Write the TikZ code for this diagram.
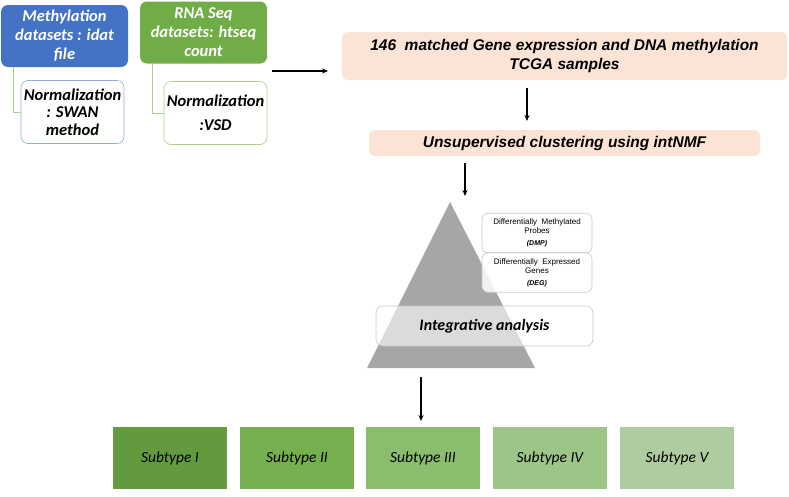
\documentclass[tikz,border=0pt]{standalone}
\usepackage{fontspec}
\usetikzlibrary{arrows.meta}
\newfontfamily\calfont{Carlito}
\newfontfamily\arifont{Liberation Sans}
\definecolor{mblue}{HTML}{4472C4}
\definecolor{mgreen}{HTML}{70AD47}
\definecolor{lblue}{HTML}{8FAADC}
\definecolor{lgreen}{HTML}{A9D18E}
\definecolor{peach}{HTML}{FBE4D5}
\definecolor{tgray}{HTML}{A6A6A6}
\definecolor{bgray}{HTML}{C8C8C8}
\definecolor{sa}{HTML}{639A3D}
\definecolor{sb}{HTML}{74B04E}
\definecolor{sc}{HTML}{8ABD6E}
\definecolor{sd}{HTML}{9CC587}
\definecolor{se}{HTML}{AECCA0}
\begin{document}
\begin{tikzpicture}[x=1pt,y=-1pt,
  topbox/.style={rounded corners=7pt, minimum width=127pt, minimum height=62pt, inner sep=1pt,
     align=center, text=white, font=\calfont\bfseries\itshape\fontsize{16.5}{19}\selectfont},
  normbox/.style={draw, line width=0.6pt, rounded corners=7pt, fill=white, minimum width=103pt, minimum height=63pt,
     inner sep=1pt, align=center, font=\calfont\bfseries\itshape\fontsize{16.5}{17.5}\selectfont},
  peachbox/.style={fill=peach, rounded corners=6pt, align=center, inner sep=2pt,
     font=\arifont\bfseries\itshape\fontsize{15.5}{19}\selectfont},
  smallbox/.style={draw=bgray, line width=0.6pt, fill=white, fill opacity=0.85, text opacity=1, rounded corners=6pt,
     minimum width=110pt, minimum height=39.5pt, inner sep=1pt, align=center,
     font=\arifont\fontsize{8}{9}\selectfont},
  subbox/.style={minimum width=114pt, minimum height=62pt, inner sep=0pt,
     font=\calfont\itshape\fontsize{15.5}{17}\selectfont},
  arr/.style={line width=1.4pt, -{Stealth[length=6pt,width=5pt]}},
  conn/.style={draw=lgreen, line width=0.8pt}
]
\useasboundingbox (0,0) rectangle (789,496);

% top-left boxes
\node[topbox, fill=mblue] (meth) at (64.5,36) {Methylation\\datasets : idat\\file};
\node[topbox, fill=mgreen] (rna) at (203.5,32.5) {RNA Seq\\datasets: htseq\\count};
\node[normbox, draw=lblue] (swan) at (72.5,112) {Normalization\\: SWAN\\method};
\node[normbox, draw=lgreen] (vsd) at (215.5,113) {Normalization\\[7pt]:VSD};
\draw[conn] (meth.south -| 13,0) |- (swan.west);
\draw[conn] (rna.south -| 152,0) |- (vsd.west);

% right flow
\node[peachbox, minimum width=445pt, minimum height=48pt] (p1) at (564.5,56)
  {146\ \ matched Gene expression and DNA methylation\\TCGA samples};
\node[peachbox, minimum width=391pt, minimum height=26pt] (p2) at (564.5,143)
  {Unsupervised clustering using intNMF};

\coordinate (a0) at (272,71);
\coordinate (a1) at (328,71);
\draw[arr] (a0) -- (a1);
\coordinate (b0) at (527,88);
\coordinate (b1) at (527,121);
\draw[arr] (b0) -- (b1);

% pyramid
\coordinate (apex) at (450,202);
\coordinate (bl) at (367,368);
\coordinate (br) at (535,368);
\fill[tgray] (apex) -- (bl) -- (br) -- cycle;
\coordinate (c0) at (465,163);
\coordinate (c1) at (465,196);
\draw[arr] (c0) -- (c1);

\node[smallbox] (dmp) at (537,233) {Differentially\ \ Methylated\\Probes\\[3pt]{\fontsize{7}{8}\selectfont\bfseries\itshape(DMP)}};
\node[smallbox] (deg) at (537,272.5) {Differentially\ \ Expressed\\Genes\\[3pt]{\fontsize{7}{8}\selectfont\bfseries\itshape(DEG)}};
\node[draw=bgray, line width=0.6pt, fill=white, fill opacity=0.6, text opacity=1, rounded corners=7pt,
  minimum width=217pt, minimum height=40pt, font=\calfont\bfseries\itshape\fontsize{16}{18}\selectfont]
  (integ) at (484.5,326) {Integrative analysis};

\coordinate (d0) at (421,377);
\coordinate (d1) at (421,421);
\draw[arr] (d0) -- (d1);

% subtypes
\node[subbox, fill=sa] (s1) at (170,458) {Subtype I};
\node[subbox, fill=sb] (s2) at (297,458) {Subtype II};
\node[subbox, fill=sc] (s3) at (423,458) {Subtype III};
\node[subbox, fill=sd] (s4) at (550,458) {Subtype IV};
\node[subbox, fill=se] (s5) at (677,458) {Subtype V};
\end{tikzpicture}
\end{document}
